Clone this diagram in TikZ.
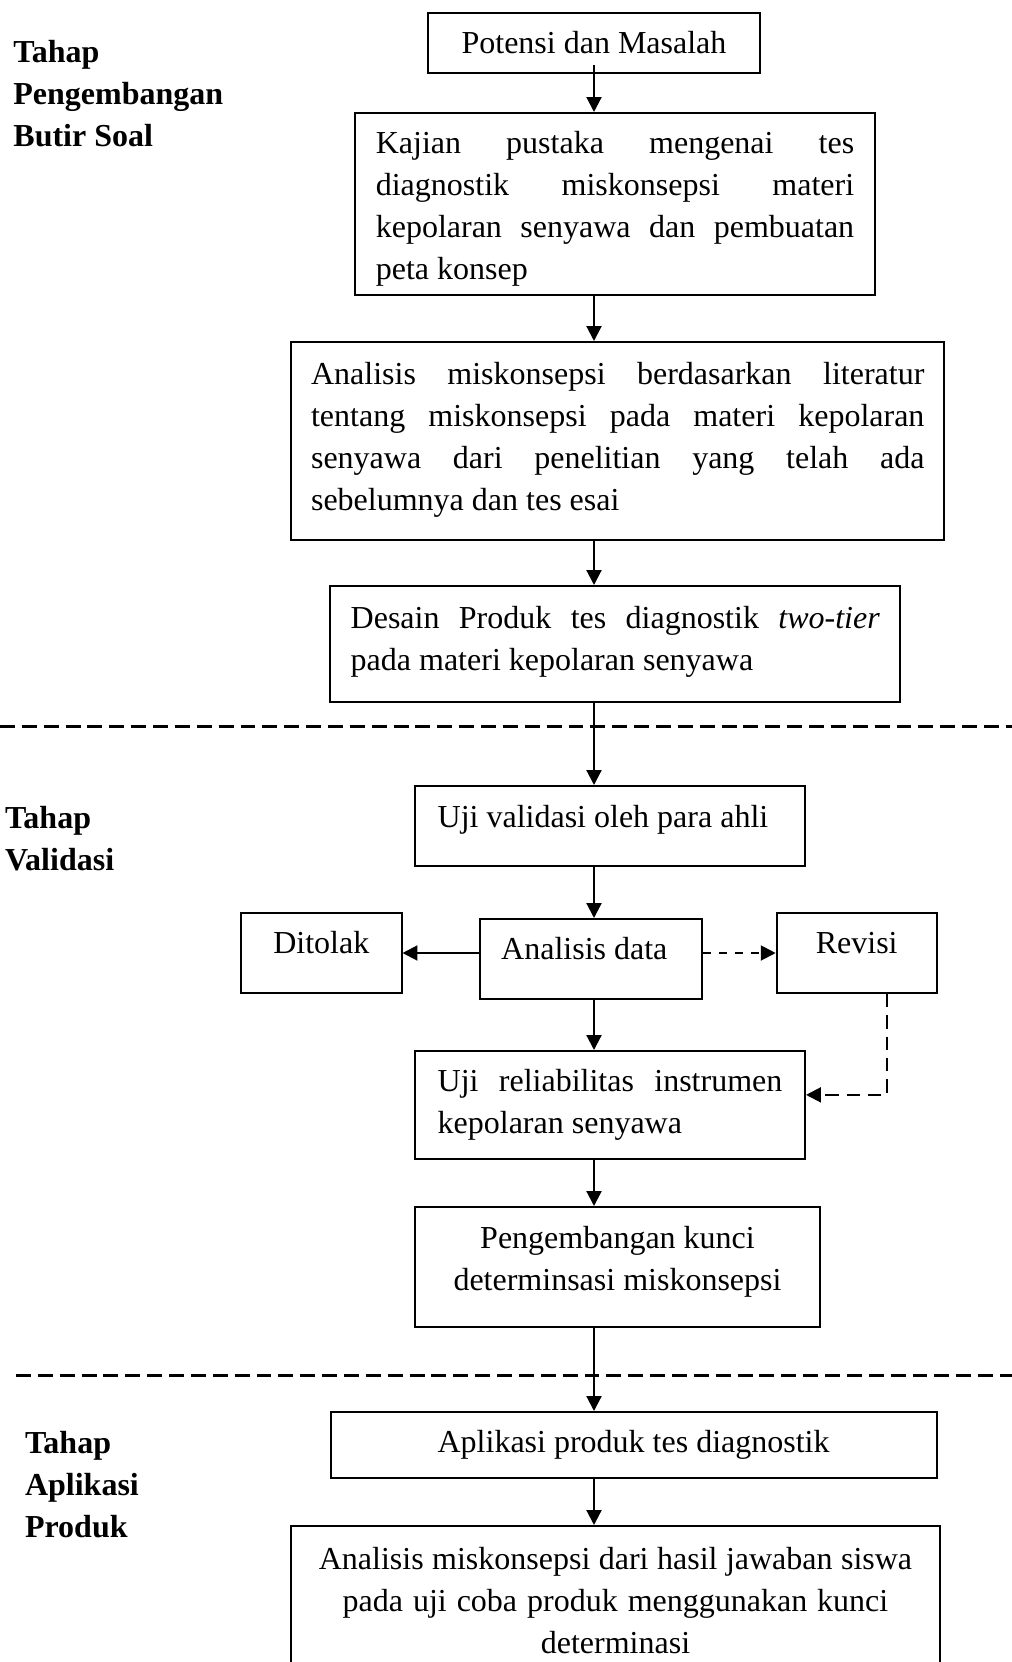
\documentclass[tikz,border=0pt]{standalone}
\usepackage{fontspec}
\setmainfont{Liberation Serif}
\usetikzlibrary{arrows.meta}
\hbadness=10000
\tolerance=10000

\tikzstyle{box} = [draw, line width=0.75pt, inner sep=0pt, font=\fontsize{12}{15.8}\selectfont, execute at begin node={\spaceskip=0pt\xspaceskip=0pt}]
\tikzstyle{para} = [box, align=justify, inner xsep=7.7pt]
\tikzstyle{stage} = [anchor=north west, inner sep=0pt, align=left, font=\fontsize{12}{15.7}\selectfont\bfseries]
\tikzstyle{flow} = [line width=0.8pt, -{Triangle[length=5.6pt,width=5.6pt]}]
\tikzstyle{flowdash} = [flow, dashed]
\tikzstyle{split} = [line width=1pt, dash pattern=on 5.6pt off 2.6pt]

\newcommand{\dstrut}[1]{\rule[-#1]{0pt}{#1}}

\begin{document}
\begin{tikzpicture}[x=0.375pt, y=-0.375pt]
		\useasboundingbox (0,0) rectangle (1012,1662);
		\node[stage] (s1) at (12.9,40) {Tahap\\Pengembangan\\Butir Soal};
		\node[stage] (s2) at (4.5,806) {Tahap\\Validasi};
		\node[stage] (s3) at (24.5,1431) {Tahap\\Aplikasi\\Produk};
		\node[box, minimum width=124.5pt, minimum height=22.5pt] (pot) at (594,43) {Potensi dan Masalah};
		\node[para, text width=179.4pt, minimum height=68.25pt] (kaj) at (615,204) {\rule{0pt}{12pt}Kajian pustaka mengenai tes\linebreak diagnostik miskonsepsi materi\linebreak kepolaran senyawa dan pembuatan\linebreak peta konsep};
		\node[para, text width=230pt, inner xsep=7.5pt, minimum height=74.25pt] (ana) at (617.75,441) {Analisis miskonsepsi berdasarkan literatur\linebreak tentang miskonsepsi pada materi kepolaran\linebreak senyawa dari penelitian yang telah ada\linebreak sebelumnya dan tes esai\dstrut{3.4pt}};
		\node[para, text width=198.4pt, inner xsep=7.6pt, minimum height=43.5pt] (des) at (615.25,644) {Desain Produk tes diagnostik \textit{two-tier}\linebreak pada materi kepolaran senyawa\dstrut{4.5pt}};
		\node[box, text width=129.25pt, align=left, inner xsep=8.5pt, minimum height=30pt] (uji) at (610,826) {Uji validasi oleh para ahli\dstrut{7.4pt}};
		\node[box, minimum width=60.2pt, minimum height=30pt] (tol) at (321.25,953) {Ditolak\dstrut{7.8pt}};
		\node[box, minimum width=83pt, minimum height=30pt] (dat) at (591,959) {Analisis data\kern5pt\dstrut{7.8pt}};
		\node[box, minimum width=60pt, minimum height=30pt] (rev) at (856.7,953) {Revisi\dstrut{7.8pt}};
		\node[para, text width=129.25pt, inner xsep=8.5pt, minimum height=40.5pt] (rel) at (610,1105) {Uji reliabilitas instrumen\linebreak kepolaran senyawa};
		\node[box, align=center, minimum width=151.9pt, minimum height=45pt] (pen) at (617.5,1267) {Pengembangan kunci\\determinsasi miskonsepsi\dstrut{6.2pt}};
		\node[box, minimum width=227.3pt, minimum height=24.75pt] (apl) at (633.6,1445) {Aplikasi produk tes diagnostik};
		\node[box, anchor=north, align=center, text width=228pt, inner xsep=7.7pt, inner ysep=7.8pt] (last) at (615.5,1525) {Analisis miskonsepsi dari hasil jawaban siswa\\pada uji coba produk menggunakan kunci\\determinasi\dstrut{14pt}};
		% batas antar tahap
		\draw[split] (0,726.5) -- (1012,726.5);
		\draw[split] (16,1375.5) -- (1012,1375.5);
		\draw[flow] ([yshift=3.4pt]pot.south) -- (kaj.north -| pot);
		\draw[flow] (kaj.south -| pot) -- (ana.north -| pot);
		\draw[flow] (ana.south -| pot) -- (des.north -| pot);
		\draw[flow] (des.south -| pot) -- (uji.north -| pot);
		\draw[flow] (uji.south -| pot) -- (dat.north -| pot);
		\draw[flow] (dat.west |- tol.east) -- (tol.east);
		\draw[flowdash] (dat.east |- rev.west) -- (rev.west);
		\draw[flow] (dat.south -| pot) -- (rel.north -| pot);
		\draw[flow, dash pattern=on 5pt off 3pt] ([xshift=11.4pt]rev.south) |- ([yshift=3.8pt]rel.east);
		\draw[flow] (rel.south -| pot) -- (pen.north -| pot);
		\draw[flow] (pen.south -| pot) -- (apl.north -| pot);
		\draw[flow] (apl.south -| pot) -- (last.north -| pot);
		\end{tikzpicture}
\end{document}
